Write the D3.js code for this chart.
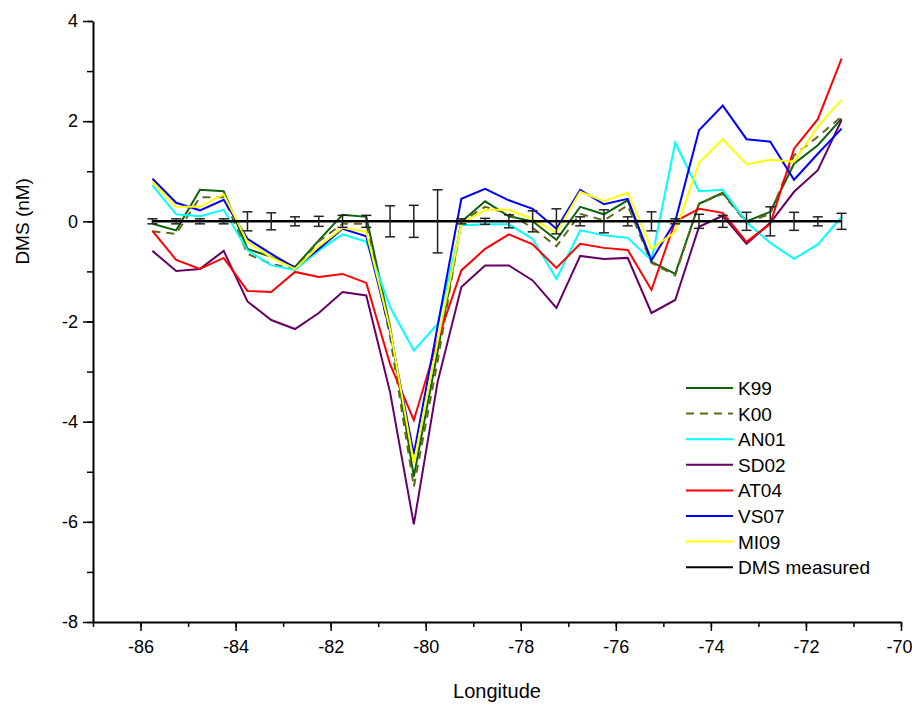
<!DOCTYPE html>
<html>
<head>
<meta charset="utf-8">
<script src="https://cdn.jsdelivr.net/npm/d3@7"></script>
<style>
  body { margin: 0; background: #fff; }
  svg text { font-family: "Liberation Sans", Arial, sans-serif; }
</style>
</head>
<body>
<div id="chart"></div>
<script>
// longitude of each station
const lon = [-85.75, -85.25, -84.75, -84.25, -83.75, -83.25, -82.75, -82.25, -81.75, -81.25,
  -80.75, -80.25, -79.75, -79.25, -78.75, -78.25, -77.75, -77.25, -76.75, -76.25,
  -75.75, -75.25, -74.75, -74.25, -73.75, -73.25, -72.75, -72.25, -71.75, -71.25]

// model minus measured DMS (nM)
const k99 = [-0.05, -0.18, 0.63, 0.60, -0.55, -0.71, -0.91, -0.38, 0.13, 0.09,
  -2.1, -5.1, -2.6, -0.01, 0.40, 0.10, 0.0, -0.37, 0.29, 0.14,
  0.42, -0.81, -1.05, 0.35, 0.57, 0.0, 0.19, 1.15, 1.52, 2.05]
const k00 = [-0.2, -0.25, 0.48, 0.48, -0.65, -0.85, -0.95, -0.4, -0.05, -0.05,
  -2.3, -5.3, -2.8, 0.0, 0.29, 0.15, -0.13, -0.5, 0.15, 0.02,
  0.32, -0.83, -1.08, 0.35, 0.55, -0.03, 0.15, 1.32, 1.69, 2.09]
const an01 = [0.72, 0.14, 0.10, 0.23, -0.58, -0.88, -0.97, -0.58, -0.26, -0.41,
  -1.71, -2.58, -2.05, -0.08, -0.06, -0.06, -0.35, -1.15, -0.18, -0.28,
  -0.33, -0.78, 1.57, 0.6, 0.63, -0.02, -0.43, -0.75, -0.46, 0.09]
const sd02 = [-0.59, -0.99, -0.95, -0.59, -1.6, -1.97, -2.15, -1.83, -1.41, -1.48,
  -3.41, -6.05, -3.21, -1.31, -0.88, -0.88, -1.18, -1.73, -0.69, -0.75,
  -0.73, -1.83, -1.57, -0.11, 0.11, -0.45, -0.03, 0.59, 1.02, 2.02]
const at04 = [-0.19, -0.77, -0.95, -0.73, -1.39, -1.41, -1.01, -1.11, -1.05, -1.23,
  -2.85, -3.97, -2.38, -0.98, -0.55, -0.26, -0.46, -0.93, -0.45, -0.53,
  -0.57, -1.37, 0.0, 0.25, 0.17, -0.41, -0.05, 1.45, 2.04, 3.25]
const vs07 = [0.85, 0.37, 0.22, 0.43, -0.35, -0.65, -0.93, -0.55, -0.15, -0.30,
  -2.2, -4.65, -2.1, 0.45, 0.65, 0.42, 0.25, -0.15, 0.63, 0.34,
  0.45, -0.78, 0.0, 1.82, 2.31, 1.64, 1.59, 0.83, 1.35, 1.85]
const mi09 = [0.79, 0.29, 0.29, 0.54, -0.41, -0.72, -0.95, -0.5, -0.13, -0.21,
  -2.15, -4.82, -2.4, -0.05, 0.23, 0.23, 0.05, -0.23, 0.59, 0.40,
  0.57, -0.55, -0.21, 1.17, 1.64, 1.14, 1.23, 1.19, 1.89, 2.43]

// measured (reference line) and its error
const measured = [0, 0, 0, 0, 0, 0, 0, 0, 0, 0, 0, 0, 0, 0, 0, 0, 0, 0, 0, 0, 0, 0, 0, 0, 0, 0, 0, 0, 0, 0]
const measErr = [0.05, 0.05, 0.05, 0.05, 0.19, 0.17, 0.09, 0.10, 0.12, 0.12,
  0.31, 0.32, 0.63, 0.05, 0.06, 0.13, 0.21, 0.25, 0.09, 0.23,
  0.09, 0.19, 0.05, 0.14, 0.12, 0.18, 0.29, 0.18, 0.09, 0.16]

const seriesNames = ["K99", "K00", "AN01", "SD02", "AT04", "VS07", "MI09"]
const seriesValues = [k99, k00, an01, sd02, at04, vs07, mi09]
const seriesColors = ["#0a640a", "#66661a", "#00ffff", "#660066", "#ff0000", "#0000ff", "#ffff00"]
const xTicks = [-86, -84, -82, -80, -78, -76, -74, -72, -70]
const yTicks = [-8, -6, -4, -2, 0, 2, 4]

const width = 912, height = 705
const margin = {top: 21, right: 11, bottom: 83, left: 93}

const svg = d3.select("#chart").append("svg")
  .attr("width", width)
  .attr("height", height)

const x = d3.scaleLinear().domain([-87, -70]).range([margin.left, width - margin.right])
const y = d3.scaleLinear().domain([-8, 4]).range([height - margin.bottom, margin.top])

// plain hyphen like the original, not the unicode minus
const fmt = d => String(d)

// axes: minor ticks first, then major with labels
svg.append("g")
  .attr("transform", `translate(0,${y(-8)})`)
  .call(d3.axisBottom(x).tickValues(d3.range(-87, -69, 1)).tickSize(5).tickFormat(""))
  .call(g => g.select(".domain").remove())
svg.append("g")
  .attr("class", "xaxis")
  .attr("transform", `translate(0,${y(-8)})`)
  .call(d3.axisBottom(x).tickValues(xTicks).tickSize(9).tickSizeOuter(0).tickPadding(9).tickFormat(fmt))

svg.append("g")
  .attr("transform", `translate(${x(-87)},0)`)
  .call(d3.axisLeft(y).tickValues(d3.range(-8, 5, 1)).tickSize(6).tickFormat(""))
  .call(g => g.select(".domain").remove())
svg.append("g")
  .attr("class", "yaxis")
  .attr("transform", `translate(${x(-87)},0)`)
  .call(d3.axisLeft(y).tickValues(yTicks).tickSize(10).tickSizeOuter(0).tickPadding(5).tickFormat(fmt))

svg.selectAll(".tick line").attr("stroke", "#000").attr("stroke-width", 1.5)
svg.selectAll(".domain").attr("stroke", "#000").attr("stroke-width", 2)
svg.selectAll(".tick text").style("font-size", "18px").attr("fill", "#000")

// keep the last x label inside the picture
svg.select(".xaxis").selectAll(".tick text")
  .filter(d => d === -70)
  .attr("text-anchor", "end")
  .attr("dx", 11)

// axis titles
svg.append("text")
  .attr("x", (margin.left + width - margin.right) / 2)
  .attr("y", 698)
  .attr("text-anchor", "middle")
  .style("font-size", "20px")
  .text("Longitude")

svg.append("text")
  .attr("transform", `translate(29,${y(0)}) rotate(-90)`)
  .attr("text-anchor", "middle")
  .style("font-size", "19px")
  .text("DMS (nM)")

const line = d3.line()
  .x((d, i) => x(lon[i]))
  .y(d => y(d))

// model lines
seriesValues.forEach((vals, k) => {
  svg.append("path")
    .datum(vals)
    .attr("fill", "none")
    .attr("stroke", seriesColors[k])
    .attr("stroke-width", 2)
    .attr("stroke-dasharray", seriesNames[k] === "K00" ? "8,6" : null)
    .attr("d", line)
})

// measured line with error bars
svg.append("path")
  .datum(measured)
  .attr("fill", "none")
  .attr("stroke", "#000")
  .attr("stroke-width", 2.5)
  .attr("d", line)

const bars = svg.append("g").attr("stroke", "#222").attr("stroke-width", 1.5)
measured.forEach((m, i) => {
  const cx = x(lon[i])
  bars.append("line").attr("x1", cx).attr("x2", cx).attr("y1", y(m - measErr[i])).attr("y2", y(m + measErr[i]))
  bars.append("line").attr("x1", cx - 5).attr("x2", cx + 5).attr("y1", y(m - measErr[i])).attr("y2", y(m - measErr[i]))
  bars.append("line").attr("x1", cx - 5).attr("x2", cx + 5).attr("y1", y(m + measErr[i])).attr("y2", y(m + measErr[i]))
})

// legend
const legendNames = seriesNames.concat(["DMS measured"])
const legendColors = seriesColors.concat(["#000"])
const legend = svg.append("g").attr("transform", "translate(686,388)")
legendNames.forEach((name, i) => {
  const row = legend.append("g").attr("transform", `translate(0,${i * 25.6})`)
  row.append("line")
    .attr("x1", 0).attr("x2", 47)
    .attr("stroke", legendColors[i])
    .attr("stroke-width", 2)
    .attr("stroke-dasharray", name === "K00" ? "8,6" : null)
  row.append("text")
    .attr("x", 52)
    .attr("y", 7)
    .style("font-size", "19px")
    .text(name)
})
</script>
</body>
</html>
